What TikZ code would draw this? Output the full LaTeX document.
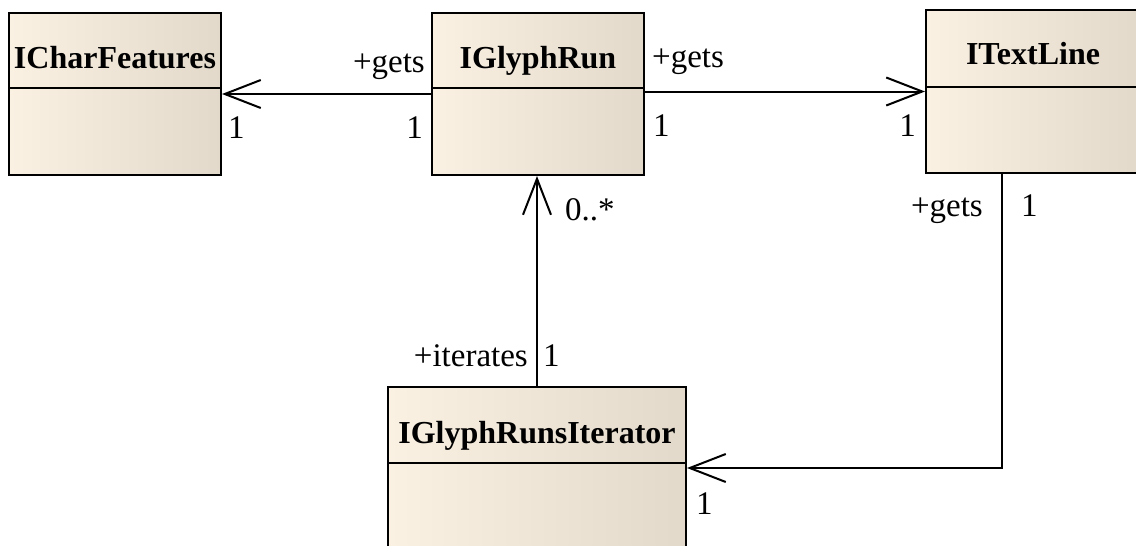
\documentclass[tikz,border=0pt]{standalone}
\usepackage{fontspec}
\setmainfont{Liberation Serif}
\usetikzlibrary{arrows.meta}
\definecolor{clsL}{HTML}{FBF1E3}
\definecolor{clsR}{HTML}{E2D9CB}
\begin{document}
\begin{tikzpicture}[x=1pt,y=-1pt,
  cls/.style={draw=black, line width=2pt, left color=clsL, right color=clsR, inner sep=0pt},
  lbl/.style={font=\fontsize{33}{38}\selectfont, inner sep=0pt},
  ttl/.style={font=\fontsize{32}{38}\selectfont\bfseries, inner sep=0pt, anchor=base},
  assoc/.style={line width=2pt, -{Straight Barb[length=36pt,width=28pt,line width=2pt]}},
  divider/.style={line width=2pt}]
\useasboundingbox (0,0) rectangle (1136,546);
\clip (0,0) rectangle (1136,546);
% classes
\node[cls, minimum width=212pt, minimum height=162pt] (cf) at (115,94) {};
\node[cls, minimum width=212pt, minimum height=162pt] (gr) at (538,94) {};
\node[cls, minimum width=214pt, minimum height=163pt] (tl) at (1033,91.5) {};
\node[cls, minimum width=298pt, minimum height=170pt] (it) at (537,472) {};
% dividers
\draw[divider] ([yshift=-76pt]cf.north west) -- ([yshift=-76pt]cf.north east);
\draw[divider] ([yshift=-76pt]gr.north west) -- ([yshift=-76pt]gr.north east);
\draw[divider] ([yshift=-78pt]tl.north west) -- ([yshift=-78pt]tl.north east);
\draw[divider] ([yshift=-77pt]it.north west) -- ([yshift=-77pt]it.north east);
% titles
\node[ttl] (cft) at (115,68) {ICharFeatures};
\node[ttl] (grt) at (538,68) {IGlyphRun};
\node[ttl] (tlt) at (1033,64) {ITextLine};
\node[ttl] (itt) at (537,443) {IGlyphRunsIterator};
% connectors
\draw[assoc] (gr.west) -- (cf.east);
\draw[assoc] (gr.east |- tl.west) -- (tl.west);
\draw[assoc] (it.north) -- (it.north |- gr.south);
\draw[assoc] ([xshift=-31pt]tl.south) |- ([yshift=4pt]it.east);
% labels
\node[lbl, anchor=base east] (l1) at (425,72) {+gets};
\node[lbl, anchor=base east] (l2) at (423,138) {1};
\node[lbl, anchor=base west] (l3) at (228,138) {1};
\node[lbl, anchor=base west] (l4) at (652,67) {+gets};
\node[lbl, anchor=base west] (l5) at (653,136) {1};
\node[lbl, anchor=base east] (l6) at (916,136) {1};
\node[lbl, anchor=base east] (l7) at (983,216) {+gets};
\node[lbl, anchor=base west] (l8) at (1021,216) {1};
\node[lbl, anchor=base west] (l9) at (565,220) {0..*};
\node[lbl, anchor=base east] (l10) at (528,366) {+iterates};
\node[lbl, anchor=base west] (l11) at (543,366) {1};
\node[lbl, anchor=base west] (l12) at (696,514) {1};
\end{tikzpicture}
\end{document}
